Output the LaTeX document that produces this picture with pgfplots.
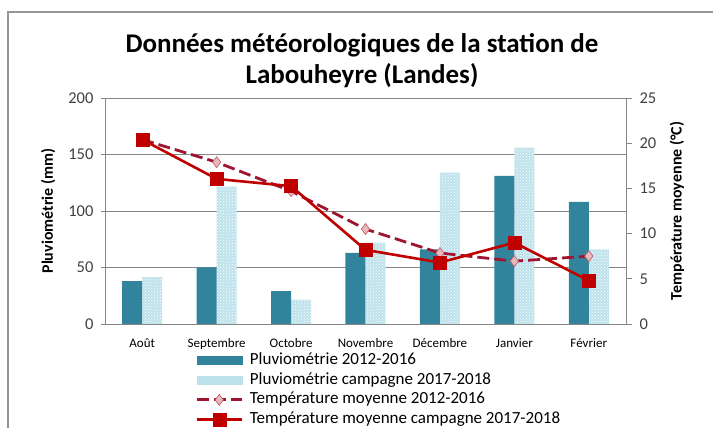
\documentclass[border=0pt]{standalone}
\usepackage{pgfplots}
\pgfplotsset{compat=1.18}
\usepackage{fontspec}
\setmainfont{Carlito}
\usetikzlibrary{patterns}
\definecolor{tealbar}{RGB}{49,132,155}
\definecolor{lightbar}{RGB}{190,226,236}
\definecolor{dashred}{RGB}{160,20,50}
\definecolor{pinkmark}{RGB}{232,185,185}
\definecolor{solidred}{RGB}{192,0,0}
\definecolor{axgray}{RGB}{134,134,134}
\definecolor{txtgray}{RGB}{64,64,64}
\definecolor{framegray}{RGB}{150,150,150}
\pgfplotsset{mylegline/.style={legend image code/.code={\draw[mark repeat=2,mark phase=2,##1] plot coordinates {(0pt,0pt) (22.5pt,0pt) (45pt,0pt)}; \path (51pt,0pt);}}}
\begin{document}
\begin{tikzpicture}[x=1pt,y=1pt]
\useasboundingbox (0,0) rectangle (713,428);
\draw[framegray, line width=1.2pt] (8,-10) -- (8,416) -- (730,416);
\node[align=center, font=\bfseries\fontsize{27}{31}\selectfont] at (362,367) {Données météorologiques de la station de\\Labouheyre (Landes)};
\begin{axis}[
  at={(105pt,104pt)}, anchor=south west, scale only axis,
  width=521pt, height=226pt,
  xmin=-0.5, xmax=6.5, ymin=0, ymax=200,
  ytick={0,50,...,200},
  ybar=0pt, bar width=20pt,
  axis x line*=bottom, axis y line*=left,
  axis line style={axgray, line width=0.9pt},
  ymajorgrids, grid style={axgray, line width=0.9pt},
  xtick={0,...,6},
  xticklabels={Août,Septembre,Octobre,Novembre,Décembre,Janvier,Février},
  x tick label style={font=\fontsize{13}{13}\selectfont, text=black, yshift=-3pt},
  major x tick style={draw=none},
  extra x ticks={-0.5,0.5,...,6.5}, extra x tick labels={},
  extra x tick style={major tick length=6pt, tick align=outside, tick style={axgray, line width=0.9pt}},
  y tick label style={font=\fontsize{16.5}{16.5}\selectfont, text=txtgray, xshift=-4pt},
  /pgf/number format/assume math mode=true,
  ytick style={axgray, line width=0.9pt}, major tick length=8pt, ytick align=center,
  ylabel={\bfseries Pluviométrie (mm)},
  ylabel style={at={(axis description cs:-0.109,0.5)}, anchor=center, font=\fontsize{16}{16}\selectfont},
]
\addplot[fill=lightbar, draw=none, forget plot, bar shift=10pt, postaction={pattern=crosshatch dots, pattern color=white}] coordinates {(0,41.5) (1,121.5) (2,21.5) (3,72) (4,134) (5,156) (6,66)};
\addplot[fill=tealbar, draw=none, bar shift=-10pt] coordinates {(0,38) (1,50) (2,29) (3,63) (4,66) (5,131) (6,108)};
\end{axis}
\begin{axis}[
  at={(105pt,104pt)}, anchor=south west, scale only axis,
  width=521pt, height=226pt,
  xmin=-0.5, xmax=6.5, ymin=0, ymax=25,
  ytick={0,5,...,25},
  axis x line=none, axis y line*=right,
  axis line style={axgray, line width=0.9pt},
  ytick style={axgray, line width=0.9pt}, major tick length=6pt, ytick align=outside,
  y tick label style={font=\fontsize{16.5}{16.5}\selectfont, text=txtgray, xshift=4pt},
  /pgf/number format/assume math mode=true,
  ylabel={\bfseries Température moyenne (°C)},
  ylabel style={at={(axis description cs:1.098,0.5)}, anchor=center, rotate=0, font=\fontsize{16}{16}\selectfont},
  legend style={at={(axis description cs:0.173,-0.118)}, anchor=north west, draw=none, fill=none,
    font=\fontsize{17}{17}\selectfont, row sep=0pt, inner sep=0pt,
    nodes={inner sep=0.8pt, text height=13pt, text depth=5pt}},
  legend cell align=left,
]
\addlegendimage{legend image code/.code={\fill[tealbar] (0pt,-4pt) rectangle (45pt,4pt); \path (51pt,0pt);}}
\addlegendentry{Pluviométrie 2012-2016}
\addlegendimage{legend image code/.code={\fill[lightbar] (0pt,-4pt) rectangle (45pt,4pt); \path (51pt,0pt);}}
\addlegendentry{Pluviométrie campagne 2017-2018}
\addplot[dashred, line width=2.8pt, dash pattern=on 12pt off 5pt, mark=diamond*, mark size=5.5pt,
  mark options={solid, fill=pinkmark, draw=dashred!60!pinkmark, line width=0.6pt}, mylegline]
  coordinates {(0,20.4) (1,17.9) (2,14.7) (3,10.5) (4,7.85) (5,6.95) (6,7.5)};
\addlegendentry{Température moyenne 2012-2016}
\addplot[solidred, line width=2.6pt, mark=square*, mark size=6.5pt, mark options={solid, fill=solidred, draw=solidred, line width=0.4pt}, mylegline]
  coordinates {(0,20.4) (1,16.05) (2,15.25) (3,8.2) (4,6.8) (5,9.0) (6,4.8)};
\addlegendentry{Température moyenne campagne 2017-2018}
\end{axis}
\end{tikzpicture}
\end{document}
